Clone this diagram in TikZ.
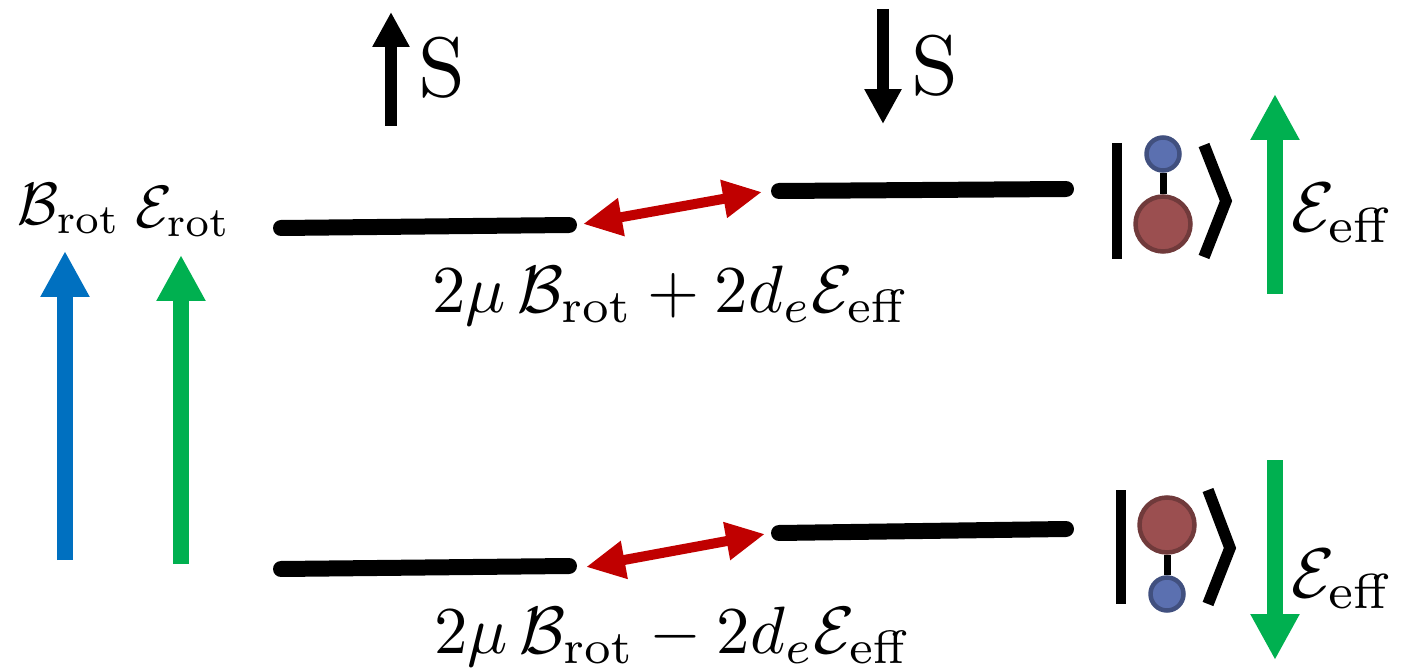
\documentclass[tikz,border=0pt]{standalone}
\usepackage{tikz}
\usetikzlibrary{arrows.meta,positioning,calc}
\definecolor{FieldBlue}{HTML}{0070C0}
\definecolor{FieldGreen}{HTML}{00B050}
\definecolor{SplitRed}{HTML}{C00000}
\definecolor{AtomBlue}{HTML}{5B70B0}
\definecolor{AtomBlueEdge}{HTML}{41507F}
\definecolor{AtomRed}{HTML}{9B4F50}
\definecolor{AtomRedEdge}{HTML}{703A3B}

\begin{document}
\begin{tikzpicture}[x=0.02cm,y=-0.02cm]
    \tikzset{level/.style={line width=0.32cm,line cap=round},
      field/.style={line width=0.32cm,-{Triangle[length=0.92cm,width=0.92cm]}},
      spin/.style={line width=0.24cm,black,-{Triangle[length=0.7cm,width=0.7cm]}},
      split/.style={line width=0.2cm,SplitRed,{Triangle[length=0.78cm,width=0.72cm]}-{Triangle[length=0.78cm,width=0.72cm]}},
      label/.style={inner sep=0pt,scale=3.81},
      fieldlabel/.style={inner sep=0pt,scale=3.4},
      efflabel/.style={inner sep=0pt,scale=4},
      spinlabel/.style={inner sep=0pt,scale=4.8},
      smallatom/.style={circle,inner sep=0pt,minimum size=0.66cm,fill=AtomBlue,draw=AtomBlueEdge,line width=0.09cm},
      bigatom/.style={circle,inner sep=0pt,minimum size=1.1cm,fill=AtomRed,draw=AtomRedEdge,line width=0.09cm},
      ket/.style={line width=0.2cm,black},
      angle/.style={line width=0.23cm,black}}
    \useasboundingbox (0,0) rectangle (1414,672);
    % energy levels
    \coordinate (upL) at (281,228);
    \coordinate (upLe) at (569,225);
    \coordinate (upR) at (779,191);
    \coordinate (upRe) at (1066,189);
    \coordinate (lowL) at (281,569);
    \coordinate (lowLe) at (569,566);
    \coordinate (lowR) at (779,533);
    \coordinate (lowRe) at (1066,529);
    \draw[level] (upL) -- (upLe);
    \draw[level] (upR) -- (upRe);
    \draw[level] (lowL) -- (lowLe);
    \draw[level] (lowR) -- (lowRe);
    \coordinate (upA) at (583,224);
    \coordinate (upB) at (762,192);
    \coordinate (lowA) at (586,567);
    \coordinate (lowB) at (765,534);
    \draw[split] (upA) -- (upB);
    \draw[split] (lowA) -- (lowB);
    \node[label] (upText) at (671,296) {$2\mu\,\mathcal{B}_{\mathrm{rot}}+2d_e\mathcal{E}_{\mathrm{eff}}$};
    \node[label] (lowText) at (673,637) {$2\mu\,\mathcal{B}_{\mathrm{rot}}-2d_e\mathcal{E}_{\mathrm{eff}}$};
    % spin
    \coordinate (s1a) at (391,126);
    \coordinate (s1b) at (391,12);
    \coordinate (s2a) at (883,9);
    \coordinate (s2b) at (883,124);
    \draw[spin] (s1a) -- (s1b);
    \draw[spin] (s2a) -- (s2b);
    \node[spinlabel] (s1) at (442,68) {S};
    \node[spinlabel] (s2) at (935,66) {S};
    % lab fields
    \node[fieldlabel] (brot) at (69,209) {$\mathcal{B}_{\mathrm{rot}}$};
    \node[fieldlabel] (erot) at (183,212) {$\mathcal{E}_{\mathrm{rot}}$};
    \coordinate (b1) at (65,560);
    \coordinate (b2) at (65,251);
    \coordinate (e1) at (181,564);
    \coordinate (e2) at (181,255);
    \draw[field,FieldBlue] (b1) -- (b2);
    \draw[field,FieldGreen] (e1) -- (e2);
    % upper molecule
    \node[bigatom] (redA) at (1163,224) {};
    \node[smallatom] (blueA) at (1163,154) {};
    \draw[line width=0.14cm] (blueA) -- (redA);
    \coordinate (barA1) at (1117,143);
    \coordinate (barA2) at (1117,259);
    \coordinate (angA1) at (1204,145);
    \coordinate (angA2) at (1226,201);
    \coordinate (angA3) at (1204,257);
    \draw[ket] (barA1) -- (barA2);
    \draw[angle] (angA1) -- (angA2) -- (angA3);
    % lower molecule
    \node[bigatom] (redB) at (1167,525) {};
    \node[smallatom] (blueB) at (1167,594) {};
    \draw[line width=0.14cm] (redB) -- (blueB);
    \coordinate (barB1) at (1121,490);
    \coordinate (barB2) at (1121,604);
    \coordinate (angB1) at (1208,490);
    \coordinate (angB2) at (1230,548);
    \coordinate (angB3) at (1208,604);
    \draw[ket] (barB1) -- (barB2);
    \draw[angle] (angB1) -- (angB2) -- (angB3);
    % effective field
    \coordinate (f1) at (1275,294);
    \coordinate (f2) at (1275,94);
    \coordinate (g1) at (1275,460);
    \coordinate (g2) at (1275,660);
    \draw[field,FieldGreen] (f1) -- (f2);
    \draw[field,FieldGreen] (g1) -- (g2);
    \node[efflabel] (effA) at (1343,213) {$\mathcal{E}_{\mathrm{eff}}$};
    \node[efflabel] (effB) at (1343,579) {$\mathcal{E}_{\mathrm{eff}}$};
  \end{tikzpicture}
\end{document}
